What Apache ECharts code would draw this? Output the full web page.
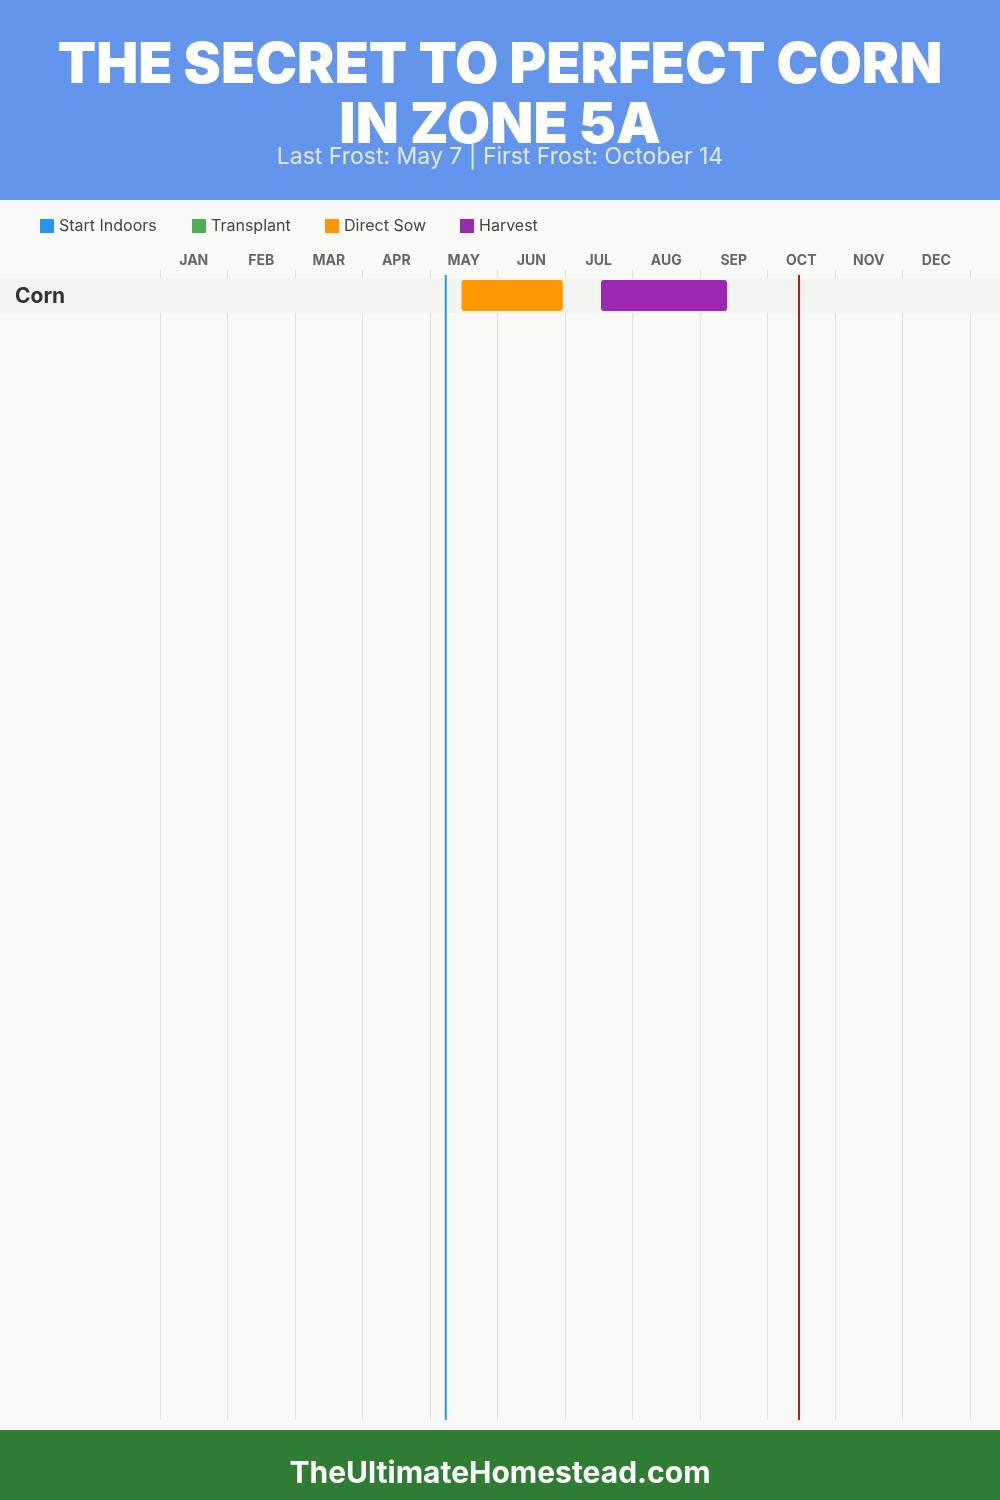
<!DOCTYPE html>
<html>
<head>
<meta charset="utf-8">
<script src="https://cdn.jsdelivr.net/npm/echarts@6/dist/echarts.min.js"></script>
<style>
html,body{margin:0;padding:0;background:#f9f9f7;}
#chart{width:1000px;height:1500px;}
</style>
</head>
<body>
<div id="chart"></div>
<script>
// ---- data ----
const titleLines = ['THE SECRET TO PERFECT CORN', 'IN ZONE 5A'];
const subtitleText = 'Last Frost: May 7 | First Frost: October 14';
const footerText = 'TheUltimateHomestead.com';
const months = ['JAN','FEB','MAR','APR','MAY','JUN','JUL','AUG','SEP','OCT','NOV','DEC'];
const crops = ['Corn'];
const phaseNames = ['Start Indoors','Transplant','Direct Sow','Harvest'];
const phaseColors = ['#2196F3','#4CAF50','#FF9800','#9C27B0'];
// [cropIndex, startMonth, startDay, endMonth, endDay]
const startIndoors = [];
const transplant = [];
const directSow = [[0, 5, 14, 6, 29]];
const harvest = [[0, 7, 16, 9, 12]];
// [name, month, day]
const lastFrost = ['Last Frost', 5, 7];
const firstFrost = ['First Frost', 10, 14];

// ---- layout / style ----
const FONT = 'Inter, "Noto Sans", sans-serif';
const legendLefts = [40, 192, 325, 460];
function pos(m, d) { return (m - 1) + d / 30; }
function toBars(arr) { return arr.map(r => [r[0], pos(r[1], r[2]), pos(r[3], r[4])]); }
const phaseData = [startIndoors, transplant, directSow, harvest].map(toBars);

const ROW_H = 35;
const GRID_TOP = 278, GRID_BOTTOM = 80;
const rowsVisible = (1500 - GRID_TOP - GRID_BOTTOM) / ROW_H;

function renderBar(params, api) {
  const row = api.value(0);
  const p0 = api.coord([api.value(1), row + 0.5]);
  const p1 = api.coord([api.value(2), row + 0.5]);
  const h = api.size([0, 1])[1] * 0.88;
  return {
    type: 'rect',
    shape: { x: p0[0], y: p0[1] - h / 2, width: p1[0] - p0[0], height: h, r: 3 },
    style: { fill: api.visual('color') }
  };
}

function renderBand(params, api) {
  const row = api.value(0);
  const top = api.coord([0, row]);
  const bot = api.coord([0, row + 1]);
  return {
    type: 'group',
    children: [
      { type: 'rect', shape: { x: 0, y: top[1], width: 1000, height: bot[1] - top[1] },
        style: { fill: '#f3f3f2' } },
      { type: 'text', style: { x: 15, y: (top[1] + bot[1]) / 2 + 1, text: crops[row],
        fill: '#333', font: 'bold 21px ' + FONT, verticalAlign: 'middle' } }
    ]
  };
}

function renderFrost(color) {
  return function (params, api) {
    const cs = params.coordSys;
    const x = api.coord([api.value(0), 0])[0];
    return {
      type: 'line',
      shape: { x1: x, y1: cs.y - 3, x2: x, y2: cs.y + cs.height },
      style: { stroke: color, lineWidth: 2 }
    };
  };
}

const series = [
  { type: 'custom', name: 'band', renderItem: renderBand, clip: false, z: 1,
    xAxisIndex: 1, data: crops.map((c, i) => [i]), encode: { x: -1, y: 0 }, silent: true },
  { type: 'custom', name: lastFrost[0], renderItem: renderFrost('#2196F3'), clip: false, z: 2,
    xAxisIndex: 1, data: [[pos(lastFrost[1], lastFrost[2])]], encode: { x: 0 }, silent: true },
  { type: 'custom', name: firstFrost[0], renderItem: renderFrost('#B71C1C'), clip: false, z: 2,
    xAxisIndex: 1, data: [[pos(firstFrost[1], firstFrost[2])]], encode: { x: 0 }, silent: true }
];
phaseNames.forEach((n, i) => {
  series.push({ type: 'custom', name: n, renderItem: renderBar, z: 3, xAxisIndex: 1,
    itemStyle: { color: phaseColors[i] }, data: phaseData[i], encode: { x: [1, 2], y: 0 } });
});

const legends = phaseNames.map((n, i) => ({
  data: [n], left: legendLefts[i], top: 218, padding: 0, itemWidth: 14, itemHeight: 14,
  icon: 'rect', selectedMode: false, itemGap: 0,
  textStyle: { color: '#444', fontFamily: FONT, fontSize: 16, padding: [1, 0, 0, 0] }
}));

const chart = echarts.init(document.getElementById('chart'), null, { renderer: 'canvas' });
chart.setOption({
  backgroundColor: '#f9f9f7',
  animation: false,
  graphic: [
    { type: 'rect', left: 0, top: 0, z: -1, shape: { width: 1000, height: 200 }, style: { fill: '#6495ED' } },
    { type: 'rect', left: 0, top: 1430, z: -1, shape: { width: 1000, height: 70 }, style: { fill: '#2E7D32' } }
  ],
  title: [
    { text: titleLines[0], left: 'center', top: 33,
      textStyle: { color: '#fff', fontFamily: FONT, fontWeight: 900, fontSize: 56 } },
    { text: titleLines[1], left: 'center', top: 93,
      textStyle: { color: '#fff', fontFamily: FONT, fontWeight: 900, fontSize: 56 } },
    { text: subtitleText, left: 'center', top: 141,
      textStyle: { color: '#e3e7ef', fontFamily: FONT, fontWeight: 'normal', fontSize: 23 } },
    { text: footerText, left: 'center', top: 1454,
      textStyle: { color: '#fff', fontFamily: FONT, fontWeight: 'bold', fontSize: 30 } }
  ],
  legend: legends,
  grid: { left: 160, right: 30, top: GRID_TOP, bottom: GRID_BOTTOM },
  xAxis: [
    { type: 'category', position: 'top', data: months, boundaryGap: true,
      axisLine: { show: false },
      axisTick: { show: true, length: 8, lineStyle: { color: '#dddddd' } },
      splitLine: { show: true, lineStyle: { color: '#e0e0e0', width: 1 } },
      axisLabel: { color: '#666', fontFamily: FONT, fontWeight: 'bold', fontSize: 14, margin: 10 } },
    { type: 'value', min: 0, max: 12, show: false, splitLine: { show: false } }
  ],
  yAxis: { type: 'value', min: 0, max: rowsVisible, inverse: true, show: false, splitLine: { show: false } },
  series: series
});
</script>
</body>
</html>
